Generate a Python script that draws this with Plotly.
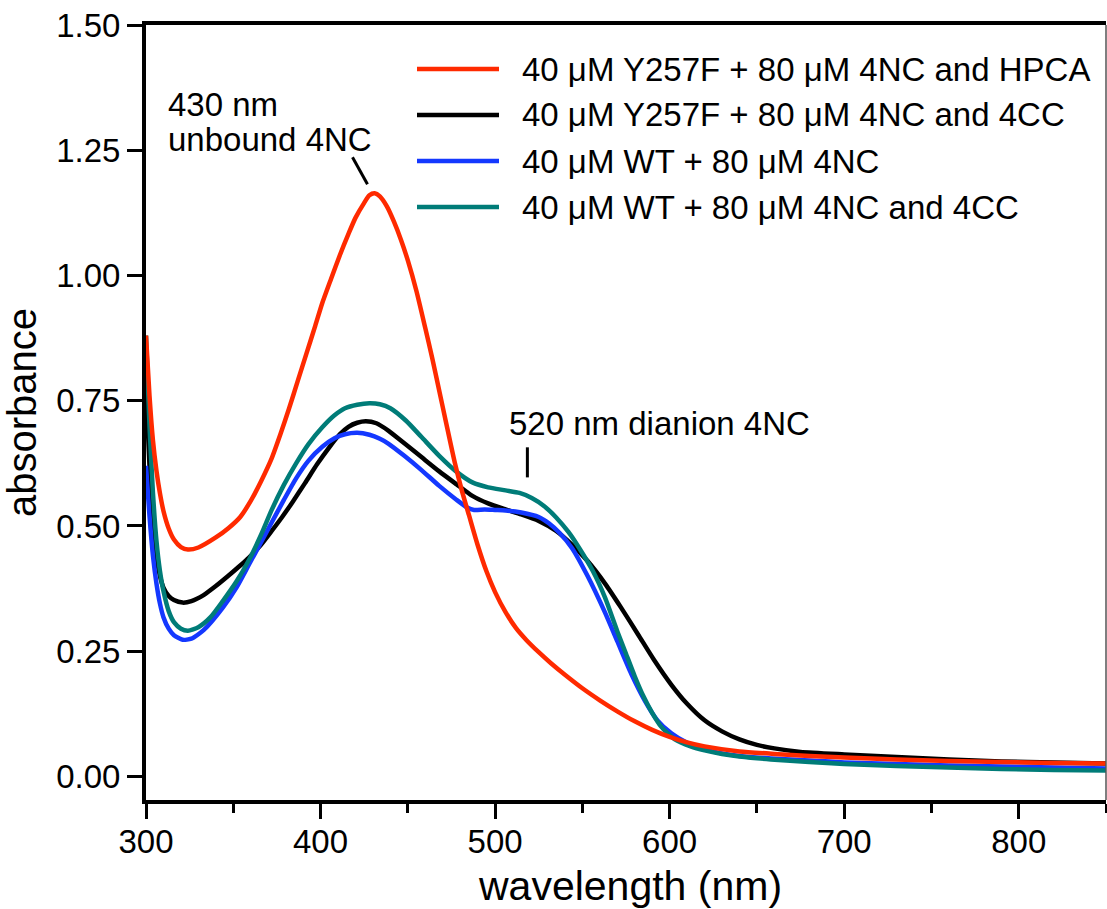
import plotly.graph_objects as go

# ---- spectra (wavelength in nm, absorbance) ----
red_wl = [300, 302, 304, 306, 308, 310, 313, 316, 320, 324, 330, 340, 347, 354, 360, 366,
          372, 377, 382, 387, 392, 397, 401, 406, 411, 416, 420, 425, 428, 431, 434, 438,
          442, 446, 450, 455, 460, 464, 468, 472, 477, 481, 485, 490, 495, 500, 506, 512,
          518, 525, 532, 540, 550, 560, 570, 580, 590, 600, 610, 620, 640, 660, 680, 700,
          730, 760, 790, 820, 850]
red_abs = [0.88, 0.76, 0.67, 0.61, 0.565, 0.53, 0.495, 0.473, 0.458, 0.453, 0.457, 0.477,
           0.495, 0.518, 0.55, 0.59, 0.635, 0.683, 0.735, 0.79, 0.845, 0.9, 0.945, 0.993,
           1.04, 1.083, 1.115, 1.145, 1.16, 1.164, 1.158, 1.138, 1.108, 1.072, 1.03,
           0.968, 0.895, 0.835, 0.77, 0.705, 0.625, 0.57, 0.522, 0.462, 0.41, 0.368,
           0.328, 0.296, 0.272, 0.248, 0.226, 0.203, 0.176, 0.152, 0.13, 0.11, 0.093,
           0.079, 0.068, 0.06, 0.05, 0.045, 0.041, 0.038, 0.034, 0.031, 0.029, 0.027,
           0.026]

black_wl = [300, 302, 304, 306, 308, 310, 313, 316, 321, 326, 333, 340, 347, 353, 359, 366,
            372, 378, 384, 391, 398, 405, 411, 416, 421, 426, 432, 439, 448, 458, 468, 478,
            487, 496, 506, 515, 525, 535, 544, 553, 563, 572, 582, 591, 601, 610, 620, 630,
            640, 650, 660, 675, 700, 730, 760, 790, 820, 850]
black_abs = [0.78, 0.62, 0.51, 0.44, 0.40, 0.377, 0.36, 0.352, 0.347, 0.35, 0.362, 0.38,
             0.40, 0.418, 0.437, 0.463, 0.49, 0.518, 0.548, 0.585, 0.623, 0.657, 0.683,
             0.698, 0.706, 0.709, 0.705, 0.69, 0.665, 0.637, 0.609, 0.583, 0.56, 0.545,
             0.533, 0.523, 0.51, 0.49, 0.463, 0.43, 0.385, 0.338, 0.283, 0.233, 0.183,
             0.145, 0.112, 0.09, 0.074, 0.063, 0.056, 0.049, 0.044, 0.039, 0.034, 0.03,
             0.028, 0.026]

blue_wl = [300, 302, 304, 306, 308, 310, 313, 316, 321, 326, 333, 344, 352, 359, 366, 372,
           379, 386, 393, 401, 408, 414, 421, 428, 434, 439, 448, 458, 468, 478, 484, 488,
           494, 500, 506, 515, 525, 531, 537, 544, 553, 563, 570, 578, 586, 593, 601, 610,
           620, 630, 640, 658, 680, 700, 730, 760, 790, 820, 850]
blue_abs = [0.62, 0.52, 0.44, 0.385, 0.345, 0.318, 0.295, 0.282, 0.273, 0.275, 0.292,
            0.337, 0.378, 0.423, 0.468, 0.507, 0.552, 0.595, 0.63, 0.658, 0.675, 0.683,
            0.686, 0.682, 0.674, 0.664, 0.64, 0.611, 0.58, 0.552, 0.537, 0.532, 0.533,
            0.532, 0.531, 0.527, 0.518, 0.505, 0.486, 0.456, 0.40, 0.327, 0.27, 0.205,
            0.15, 0.112, 0.086, 0.067, 0.054, 0.046, 0.041, 0.036, 0.032, 0.028, 0.025,
            0.022, 0.02, 0.018, 0.016]

teal_wl = [300, 302, 304, 306, 308, 310, 313, 316, 320, 324, 330, 337, 344, 352, 359, 366,
           372, 379, 386, 393, 401, 408, 414, 421, 428, 434, 440, 449, 458, 468, 478, 487,
           496, 506, 514, 521, 528, 535, 542, 548, 556, 563, 570, 575, 580, 585, 590, 595,
           603, 612, 620, 630, 640, 658, 680, 700, 730, 760, 790, 820, 850]
teal_abs = [0.88, 0.70, 0.565, 0.47, 0.41, 0.37, 0.33, 0.308, 0.295, 0.291, 0.298, 0.318,
            0.35, 0.39, 0.432, 0.483, 0.532, 0.582, 0.625, 0.663, 0.697, 0.721, 0.735,
            0.742, 0.745, 0.743, 0.735, 0.71, 0.677, 0.64, 0.608, 0.587, 0.577, 0.571,
            0.566, 0.556, 0.54, 0.517, 0.488, 0.457, 0.41, 0.357, 0.29, 0.245, 0.20, 0.16,
            0.127, 0.10, 0.074, 0.06, 0.052, 0.045, 0.04, 0.034, 0.029, 0.025, 0.021, 0.018,
            0.015, 0.013, 0.012]

series_names = [
    "40 μM Y257F + 80 μM 4NC and HPCA",
    "40 μM Y257F + 80 μM 4NC and 4CC",
    "40 μM WT + 80 μM 4NC",
    "40 μM WT + 80 μM 4NC and 4CC",
]
series_colors = ["#ff2a00", "#000000", "#1438ff", "#007c78"]

x_ticks = [300, 400, 500, 600, 700, 800]
y_ticks = [0.00, 0.25, 0.50, 0.75, 1.00, 1.25, 1.50]
y_tick_text = ["0.00", "0.25", "0.50", "0.75", "1.00", "1.25", "1.50"]

# ---- page geometry ----
W, H = 1107, 909
ML, MR, MT, MB = 146, 1, 25, 109
FONT = "Liberation Sans, Arial, Helvetica, sans-serif"


def paper_x(p):
    return (p - ML) / (W - ML - MR)


def paper_y(p):
    return 1 - (p - MT) / (H - MT - MB)


fig = go.Figure()

data = {
    0: (red_wl, red_abs),
    1: (black_wl, black_abs),
    2: (blue_wl, blue_abs),
    3: (teal_wl, teal_abs),
}
# drawing order: black, blue, teal, red on top
for i in [1, 2, 3, 0]:
    wl, ab = data[i]
    fig.add_trace(go.Scatter(
        x=wl, y=ab, mode="lines", name=series_names[i],
        line=dict(color=series_colors[i], width=4.5, shape="spline", smoothing=0.6),
        showlegend=False, hoverinfo="skip",
    ))

# ---- hand-built legend (long line samples) ----
legend_rows = [69, 115, 161, 207]
for name, color, row in zip(series_names, series_colors, legend_rows):
    fig.add_shape(type="line", xref="paper", yref="paper",
                  x0=paper_x(417), x1=paper_x(499), y0=paper_y(row), y1=paper_y(row),
                  line=dict(color=color, width=4.5))
    fig.add_annotation(xref="paper", yref="paper", x=paper_x(520), y=paper_y(row),
                       text=name, showarrow=False, xanchor="left", yanchor="middle",
                       font=dict(family=FONT, size=33, color="black"))

# ---- peak labels ----
fig.add_annotation(x=311.5, y=1.342, text="430 nm", showarrow=False,
                   xanchor="left", yanchor="middle",
                   font=dict(family=FONT, size=33, color="black"))
fig.add_annotation(x=311.5, y=1.272, text="unbound 4NC", showarrow=False,
                   xanchor="left", yanchor="middle",
                   font=dict(family=FONT, size=33, color="black"))
fig.add_shape(type="line", xref="x", yref="y", x0=418.3, y0=1.236, x1=426.9, y1=1.182,
              line=dict(color="black", width=3))

fig.add_annotation(x=507.0, y=0.705, text="520 nm dianion 4NC", showarrow=False,
                   xanchor="left", yanchor="middle",
                   font=dict(family=FONT, size=33, color="black"))
fig.add_shape(type="line", xref="x", yref="y", x0=518.5, y0=0.657, x1=518.5, y1=0.597,
              line=dict(color="black", width=3))

# x-axis title
fig.add_annotation(xref="paper", yref="paper", x=paper_x(630), y=paper_y(886),
                   text="wavelength (nm)", showarrow=False, xanchor="center",
                   yanchor="middle", font=dict(family=FONT, size=41, color="black"))

# thin right frame edge
fig.add_shape(type="line", xref="paper", yref="paper", x0=1, x1=1, y0=0, y1=1,
              line=dict(color="#555555", width=1.5))

fig.update_layout(
    width=W, height=H,
    margin=dict(l=ML, r=MR, t=MT, b=MB),
    paper_bgcolor="white", plot_bgcolor="white",
    font=dict(family=FONT, color="black"),
    xaxis=dict(
        range=[300, 850], tickvals=x_ticks, ticks="outside", ticklen=15, tickwidth=3,
        tickcolor="black", showline=True, linewidth=4, linecolor="black", mirror=True,
        showgrid=False, zeroline=False, tickfont=dict(size=33), ticklabelstandoff=-6,
        minor=dict(dtick=50, tick0=300, ticks="outside", ticklen=9, tickwidth=3,
                   tickcolor="black", showgrid=False),
    ),
    yaxis=dict(
        range=[-0.047, 1.5], tickvals=y_ticks, ticktext=y_tick_text, ticks="outside",
        ticklen=15, tickwidth=3, tickcolor="black", showline=True, linewidth=4,
        linecolor="black", showgrid=False, zeroline=False, tickfont=dict(size=33),
        title=dict(text="absorbance", font=dict(size=40), standoff=14),
    ),
)

fig.write_html("out.html")
